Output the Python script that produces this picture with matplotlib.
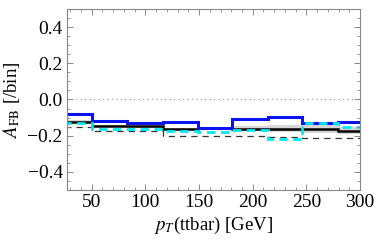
import numpy as np
import matplotlib
matplotlib.use("Agg")
import matplotlib.pyplot as plt
from matplotlib.ticker import MultipleLocator

# bin edges in pT(ttbar) [GeV]
edges = [20, 50, 83, 116, 149, 181, 214, 246, 279, 312]

# A_FB per bin
blue = [-0.081, -0.121, -0.128, -0.125, -0.157, -0.108, -0.099, -0.130, -0.123]
black = [-0.123, -0.145, -0.149, -0.165, -0.160, -0.163, -0.165, -0.165, -0.172]
cyan = [-0.128, -0.165, -0.165, -0.176, -0.178, -0.169, -0.218, -0.132, -0.152]
dashed = [-0.150, -0.174, -0.174, -0.200, -0.200, -0.200, -0.210, -0.211, -0.211]
band_hi = [-0.115, -0.140, -0.145, -0.158, -0.150, -0.145, -0.140, -0.136, -0.150]
band_lo = [-0.130, -0.152, -0.155, -0.172, -0.168, -0.172, -0.178, -0.187, -0.190]

plt.rcParams['font.family'] = ['Liberation Serif', 'DejaVu Serif']
plt.rcParams['mathtext.fontset'] = 'stix'

fig = plt.figure(figsize=(3.74, 2.49), dpi=100)
ax = fig.add_axes([0.179, 0.237, 0.784, 0.727])

ax.stairs(band_hi, edges, baseline=band_lo, fill=True, color='#d6d6d6', lw=0)
ax.axhline(0, color='#999999', ls=(0, (1, 3)), lw=0.8)
ax.stairs(dashed, edges, color='#333333', ls=(0, (5, 4)), lw=0.9)
ax.stairs(black, edges, color='black', lw=1.8)
ax.stairs(blue, edges, color='#0a14f0', lw=2.2)
ax.stairs(cyan, edges, color='#00e8f0', ls=(0, (3, 2)), lw=2.0)

ax.set_xlim(27, 300)
ax.set_ylim(-0.5, 0.5)
ax.xaxis.set_major_locator(MultipleLocator(50))
ax.xaxis.set_minor_locator(MultipleLocator(10))
ax.yaxis.set_major_locator(MultipleLocator(0.2))
ax.yaxis.set_minor_locator(MultipleLocator(0.05))
ax.yaxis.set_major_formatter(plt.FuncFormatter(lambda v, p: ('%.1f' % v).replace('-', '\u2212') if abs(v) > 1e-9 else '0.0'))

for s in ax.spines.values():
    s.set_color('#888888')
    s.set_linewidth(0.8)
ax.tick_params(which='both', direction='in', top=True, right=True, colors='#888888',
               labelcolor='black', labelsize=14, pad=3)
ax.tick_params(which='major', length=4, width=0.7)
ax.tick_params(which='minor', length=2, width=0.6)

ax.set_xlabel(r'$p_T$(ttbar) [GeV]', fontsize=13.5, labelpad=3)
ax.set_ylabel(r'$A_{\mathrm{FB}}$ [/bin]', fontsize=13.5, labelpad=4)

fig.savefig('out.png', dpi=100)
